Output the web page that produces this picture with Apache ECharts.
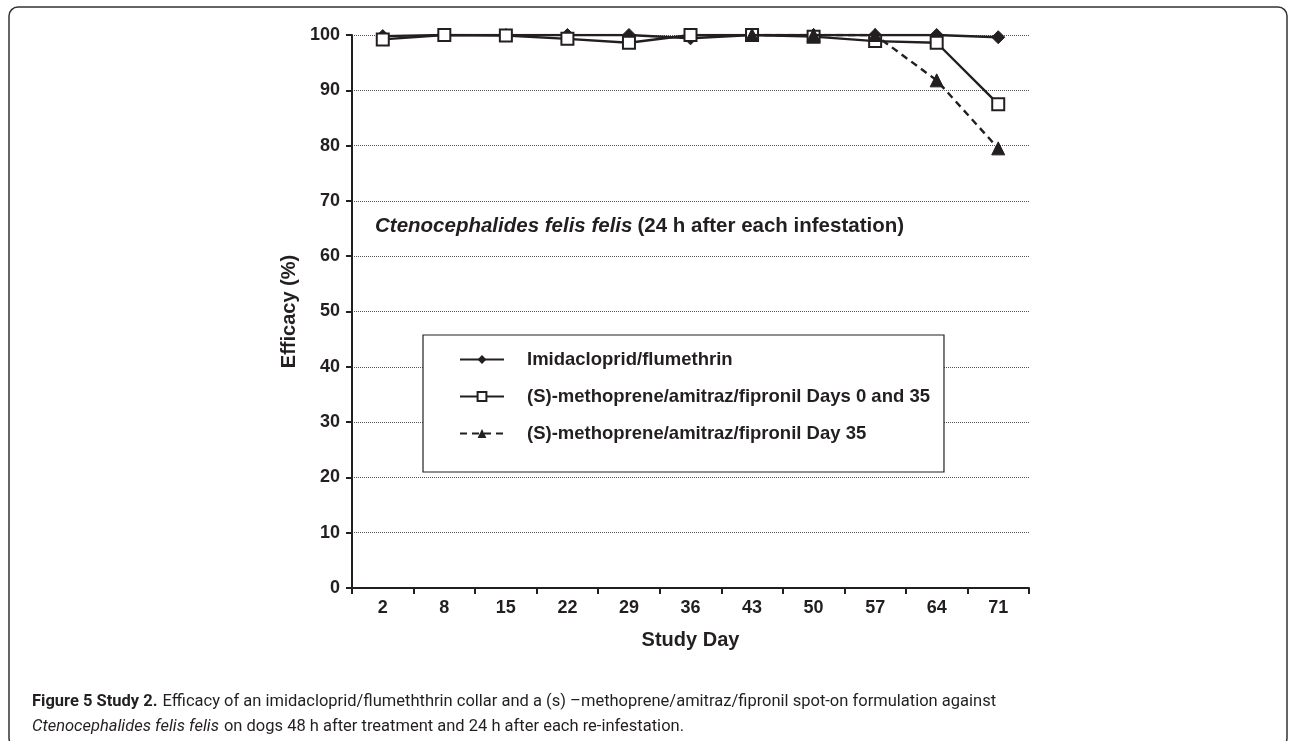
<!DOCTYPE html>
<html>
<head>
<meta charset="utf-8">
<script src="https://cdn.jsdelivr.net/npm/echarts@6/dist/echarts.min.js"></script>
<style>
html,body{margin:0;padding:0;background:#fff;}
#pic_chart{width:1290px;height:741px;}
</style>
</head>
<body>
<div id="pic_chart"></div>
<script>
var days = ['2', '8', '15', '22', '29', '36', '43', '50', '57', '64', '71'];
var yTicks = [0, 10, 20, 30, 40, 50, 60, 70, 80, 90, 100];
var imidaclopridFlumethrin = [99.8, 100, 100, 100, 100, 99.4, 100, 100, 100, 100, 99.6];
var methopreneDays0and35 = [99.2, 100, 99.9, 99.3, 98.6, 100, 100, 99.7, 98.9, 98.6, 87.5];
var methopreneDay35 = [null, null, null, null, null, null, 100, 100, 100, 91.8, 79.5];
var seriesNames = ['Imidacloprid/flumethrin', '(S)-methoprene/amitraz/fipronil Days 0 and 35', '(S)-methoprene/amitraz/fipronil Day 35'];

var ink = '#231f20';
var capFont = 'Roboto, sans-serif';
var myChart = echarts.init(document.getElementById('pic_chart'));
var option = {
    backgroundColor: '#fff',
    animation: false,
    textStyle: { fontFamily: 'Liberation Sans, Arial, sans-serif', color: ink },
    title: [
        {
            text: '{i|Ctenocephalides felis felis} {b|(24 h after each infestation)}',
            left: 370,
            top: 211,
            textStyle: {
                rich: {
                    i: { fontFamily: 'Liberation Sans', fontWeight: 'bold', fontStyle: 'italic', fontSize: 20.5, color: ink },
                    b: { fontFamily: 'Liberation Sans', fontWeight: 'bold', fontSize: 20.5, color: ink }
                }
            }
        },
        {
            text: '{b|Figure 5 Study 2.} {n|Efficacy of an imidacloprid/flumeththrin collar and a (s) \u2013methoprene/amitraz/fipronil spot-on formulation against}\n{i|Ctenocephalides felis felis} {n|on dogs 48 h after treatment and 24 h after each re-infestation.}',
            left: 27,
            top: 684,
            textStyle: {
                rich: {
                    b: { fontFamily: capFont, fontWeight: 'bold', fontSize: 16.5, color: ink, lineHeight: 25 },
                    n: { fontFamily: capFont, fontWeight: 'normal', fontSize: 16.5, color: ink, lineHeight: 25 },
                    i: { fontFamily: capFont, fontWeight: 'normal', fontStyle: 'italic', fontSize: 16.5, color: ink, lineHeight: 25 }
                }
            }
        }
    ],
    graphic: [
        {
            type: 'rect',
            shape: { x: 9, y: 7, width: 1278, height: 740, r: 9 },
            style: { fill: 'none', stroke: '#333', lineWidth: 1.5 }
        }
    ],
    legend: {
        orient: 'vertical',
        left: 423,
        top: 335,
        data: seriesNames,
        itemWidth: 44,
        itemHeight: 11,
        itemGap: 18,
        padding: [15, 14, 29, 36],
        borderColor: ink,
        borderWidth: 1.2,
        backgroundColor: '#fff',
        textStyle: { fontFamily: 'Liberation Sans', fontWeight: 'bold', fontSize: 18.5, color: ink, padding: [0, 0, 0, 18] }
    },
    grid: {
        left: 352,
        right: 261,
        top: 35,
        bottom: 153
    },
    xAxis: {
        type: 'category',
        data: days,
        boundaryGap: true,
        name: 'Study Day',
        nameLocation: 'middle',
        nameGap: 42,
        nameTextStyle: { fontFamily: 'Liberation Sans', fontWeight: 'bold', fontSize: 20, color: ink },
        axisLine: { lineStyle: { color: ink, width: 2 } },
        axisTick: { show: true, alignWithLabel: false, length: 6, lineStyle: { color: ink, width: 2 } },
        axisLabel: { fontFamily: 'Liberation Sans', fontWeight: 'bold', fontSize: 18, color: ink, margin: 11 },
        splitLine: { show: false }
    },
    yAxis: {
        type: 'value',
        min: yTicks[0],
        max: yTicks[yTicks.length - 1],
        interval: 10,
        name: 'Efficacy (%)',
        nameLocation: 'middle',
        nameGap: 52,
        nameTextStyle: { fontFamily: 'Liberation Sans', fontWeight: 'bold', fontSize: 20, color: ink },
        axisLine: { show: true, lineStyle: { color: ink, width: 2 } },
        axisTick: { show: true, inside: false, length: 6, lineStyle: { color: ink, width: 2 } },
        axisLabel: { fontFamily: 'Liberation Sans', fontWeight: 'bold', fontSize: 18, color: ink, margin: 12 },
        splitLine: { show: true, lineStyle: { color: '#555', type: [1, 1], width: 1 } }
    },
    series: [
        {
            name: seriesNames[0],
            type: 'line',
            data: imidaclopridFlumethrin,
            symbol: 'diamond',
            symbolSize: 13,
            z: 3,
            lineStyle: { color: ink, width: 2.4 },
            itemStyle: { color: ink, borderColor: ink }
        },
        {
            name: seriesNames[1],
            type: 'line',
            data: methopreneDays0and35,
            symbol: 'rect',
            symbolSize: 12,
            z: 4,
            lineStyle: { color: ink, width: 2.4 },
            itemStyle: { color: '#fff', borderColor: ink, borderWidth: 2 }
        },
        {
            name: seriesNames[2],
            type: 'line',
            data: methopreneDay35,
            symbol: 'triangle',
            symbolSize: 13,
            z: 5,
            lineStyle: { color: ink, width: 2.4, type: [7, 5] },
            itemStyle: { color: ink, borderColor: ink }
        }
    ]
};
myChart.setOption(option);
</script>
</body>
</html>
